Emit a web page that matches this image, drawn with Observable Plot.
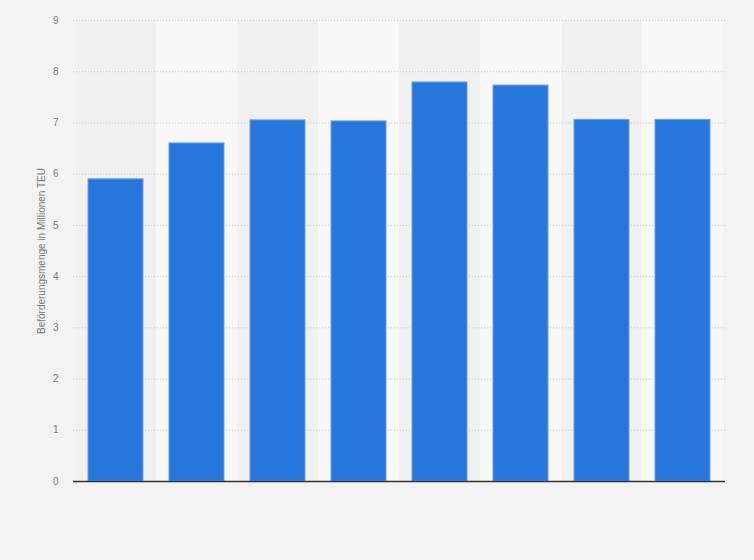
<!DOCTYPE html>
<html>
<head>
<meta charset="utf-8">
<script src="https://cdn.jsdelivr.net/npm/d3@7"></script>
<script src="https://cdn.jsdelivr.net/npm/@observablehq/plot@0.6"></script>
<style>
  html, body { margin: 0; padding: 0; background: #f3f3f3; }
  #chart { width: 754px; height: 560px; }
</style>
</head>
<body>
<div id="chart"></div>
<script>
const categories = ["1", "2", "3", "4", "5", "6", "7", "8"];
const values = [5.9, 6.6, 7.05, 7.03, 7.79, 7.73, 7.06, 7.06];
const yTicks = [0, 1, 2, 3, 4, 5, 6, 7, 8, 9];
const yLabel = "Beförderungsmenge in Millionen TEU";

const data = categories.map((c, i) => ({ cat: c, value: values[i], idx: i }));

const chart = Plot.plot({
  width: 754,
  height: 560,
  marginLeft: 73,
  marginRight: 29,
  marginTop: 20,
  marginBottom: 79,
  style: { background: "#f3f3f3", fontFamily: "Liberation Sans, Arial, sans-serif", fontSize: "10px", color: "#666" },
  x: { domain: categories, padding: 0, axis: null },
  y: { domain: [0, 9] },
  marks: [
    Plot.barY(data, { x: "cat", y1: 0, y2: 9, fill: d => d.idx % 2 === 0 ? "#f1f1f1" : "#f8f8f8" }),
    Plot.gridY(yTicks.filter(t => t > 0), { stroke: "#c8c8c8", strokeOpacity: 1, strokeDasharray: "1,2" }),
    Plot.axisY(yTicks, { tickSize: 0, tickPadding: 15, label: null, tickFormat: d3.format("d"), fill: "#777", fontSize: 10 }),
    Plot.barY(data, { x: "cat", y: "value", fill: "#2776db", stroke: "#6a9fe6", strokeWidth: 1, insetLeft: 13, insetRight: 13 }),
    Plot.ruleY([0], { stroke: "#333", strokeWidth: 1.5 }),
    Plot.text([yLabel], { frameAnchor: "left", textAnchor: "middle", dx: -32, rotate: -90, fill: "#777", fontSize: 10 })
  ]
});
document.getElementById("chart").appendChild(chart);
</script>
</body>
</html>
